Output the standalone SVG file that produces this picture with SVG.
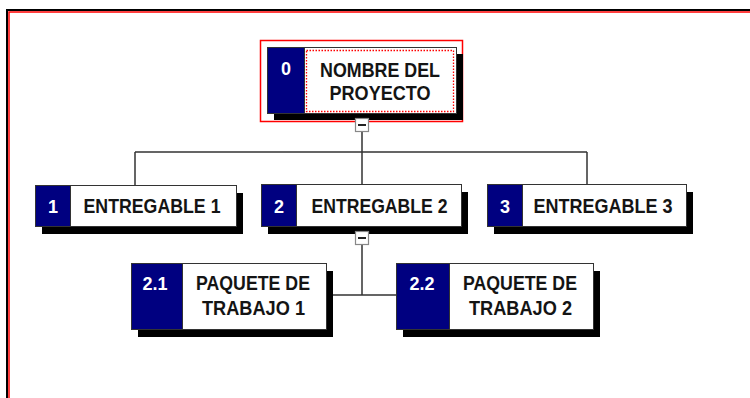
<svg xmlns="http://www.w3.org/2000/svg" width="750" height="398" viewBox="0 0 750 398">
<style>
.sh{fill:#000}
.num{fill:#000080;stroke:#333;stroke-width:1}
.lbl{fill:#fff;stroke:#333;stroke-width:1}
.t{font-family:"Liberation Sans",Arial,sans-serif;font-weight:bold;font-size:19.5px;fill:#141414;text-anchor:middle}
.n{font-family:"Liberation Sans",Arial,sans-serif;font-weight:bold;font-size:18px;fill:#fff;text-anchor:middle}
.ln{stroke:#333;stroke-width:1.5;fill:none}
.cb{fill:#fff;stroke:#888;stroke-width:1.2}
.cm{stroke:#222;stroke-width:2}
</style>
<rect x="0" y="0" width="750" height="398" fill="#fff"/>
<rect x="7" y="10" width="800" height="500" fill="none" stroke="#000" stroke-width="2"/>
<rect x="9" y="12" width="800" height="500" fill="none" stroke="#f00" stroke-width="1.5"/>

<g id="connectors">
<path class="ln" d="M362,132 V152 M135,152 H587 M135,152 V185 M362,152 V184 M587,152 V184"/>
<path class="ln" d="M362,244 V295 M326,295 H396"/>
</g>

<g id="node0">
<rect x="260.5" y="40.5" width="202" height="81" fill="none" stroke="#f00" stroke-width="1.5"/>
<rect class="sh" x="274" y="54" width="189" height="66"/>
<rect class="num" x="267.5" y="47.5" width="37" height="66"/>
<rect class="lbl" x="304.5" y="47.5" width="152" height="66"/>
<rect x="306.5" y="50.5" width="147" height="61" fill="none" stroke="#f00" stroke-width="1.3" stroke-dasharray="1.5 1.5"/>
<text class="n" x="286" y="75">0</text>
<text class="t" x="380" y="77" textLength="120" lengthAdjust="spacingAndGlyphs">NOMBRE DEL</text>
<text class="t" x="380" y="100" textLength="101" lengthAdjust="spacingAndGlyphs">PROYECTO</text>
<rect class="cb" x="355.5" y="118.5" width="13" height="13"/>
<line class="cm" x1="358" y1="125" x2="366" y2="125"/>
</g>

<g id="node1">
<rect class="sh" x="42" y="193" width="201" height="41"/>
<rect class="num" x="35.5" y="185.5" width="35" height="41"/>
<rect class="lbl" x="70.5" y="185.5" width="166" height="41"/>
<text class="n" x="53" y="213">1</text>
<text class="t" x="152" y="213" textLength="137" lengthAdjust="spacingAndGlyphs">ENTREGABLE 1</text>
</g>

<g id="node2">
<rect class="sh" x="268" y="192" width="200" height="42"/>
<rect class="num" x="261.5" y="184.5" width="35" height="42"/>
<rect class="lbl" x="296.5" y="184.5" width="165" height="42"/>
<text class="n" x="279" y="213">2</text>
<text class="t" x="379.5" y="213" textLength="136" lengthAdjust="spacingAndGlyphs">ENTREGABLE 2</text>
<rect class="cb" x="355.5" y="231.5" width="13" height="13"/>
<line class="cm" x1="358" y1="238" x2="366" y2="238"/>
</g>

<g id="node3">
<rect class="sh" x="494" y="192" width="199" height="42"/>
<rect class="num" x="487.5" y="184.5" width="35" height="42"/>
<rect class="lbl" x="522.5" y="184.5" width="164" height="42"/>
<text class="n" x="505" y="213">3</text>
<text class="t" x="603" y="213" textLength="139" lengthAdjust="spacingAndGlyphs">ENTREGABLE 3</text>
</g>

<g id="node2_1">
<rect class="sh" x="138" y="271" width="195" height="66"/>
<rect class="num" x="131.5" y="263.5" width="51" height="66"/>
<rect class="lbl" x="182.5" y="263.5" width="144" height="66"/>
<text class="n" x="155" y="290">2.1</text>
<text class="t" x="253" y="290" textLength="114" lengthAdjust="spacingAndGlyphs">PAQUETE DE</text>
<text class="t" x="253.5" y="315" textLength="103" lengthAdjust="spacingAndGlyphs">TRABAJO 1</text>
</g>

<g id="node2_2">
<rect class="sh" x="403" y="271" width="197" height="66"/>
<rect class="num" x="396.5" y="263.5" width="53" height="66"/>
<rect class="lbl" x="449.5" y="263.5" width="144" height="66"/>
<text class="n" x="422" y="290">2.2</text>
<text class="t" x="520" y="290" textLength="114" lengthAdjust="spacingAndGlyphs">PAQUETE DE</text>
<text class="t" x="520.5" y="315" textLength="103" lengthAdjust="spacingAndGlyphs">TRABAJO 2</text>
</g>
</svg>
